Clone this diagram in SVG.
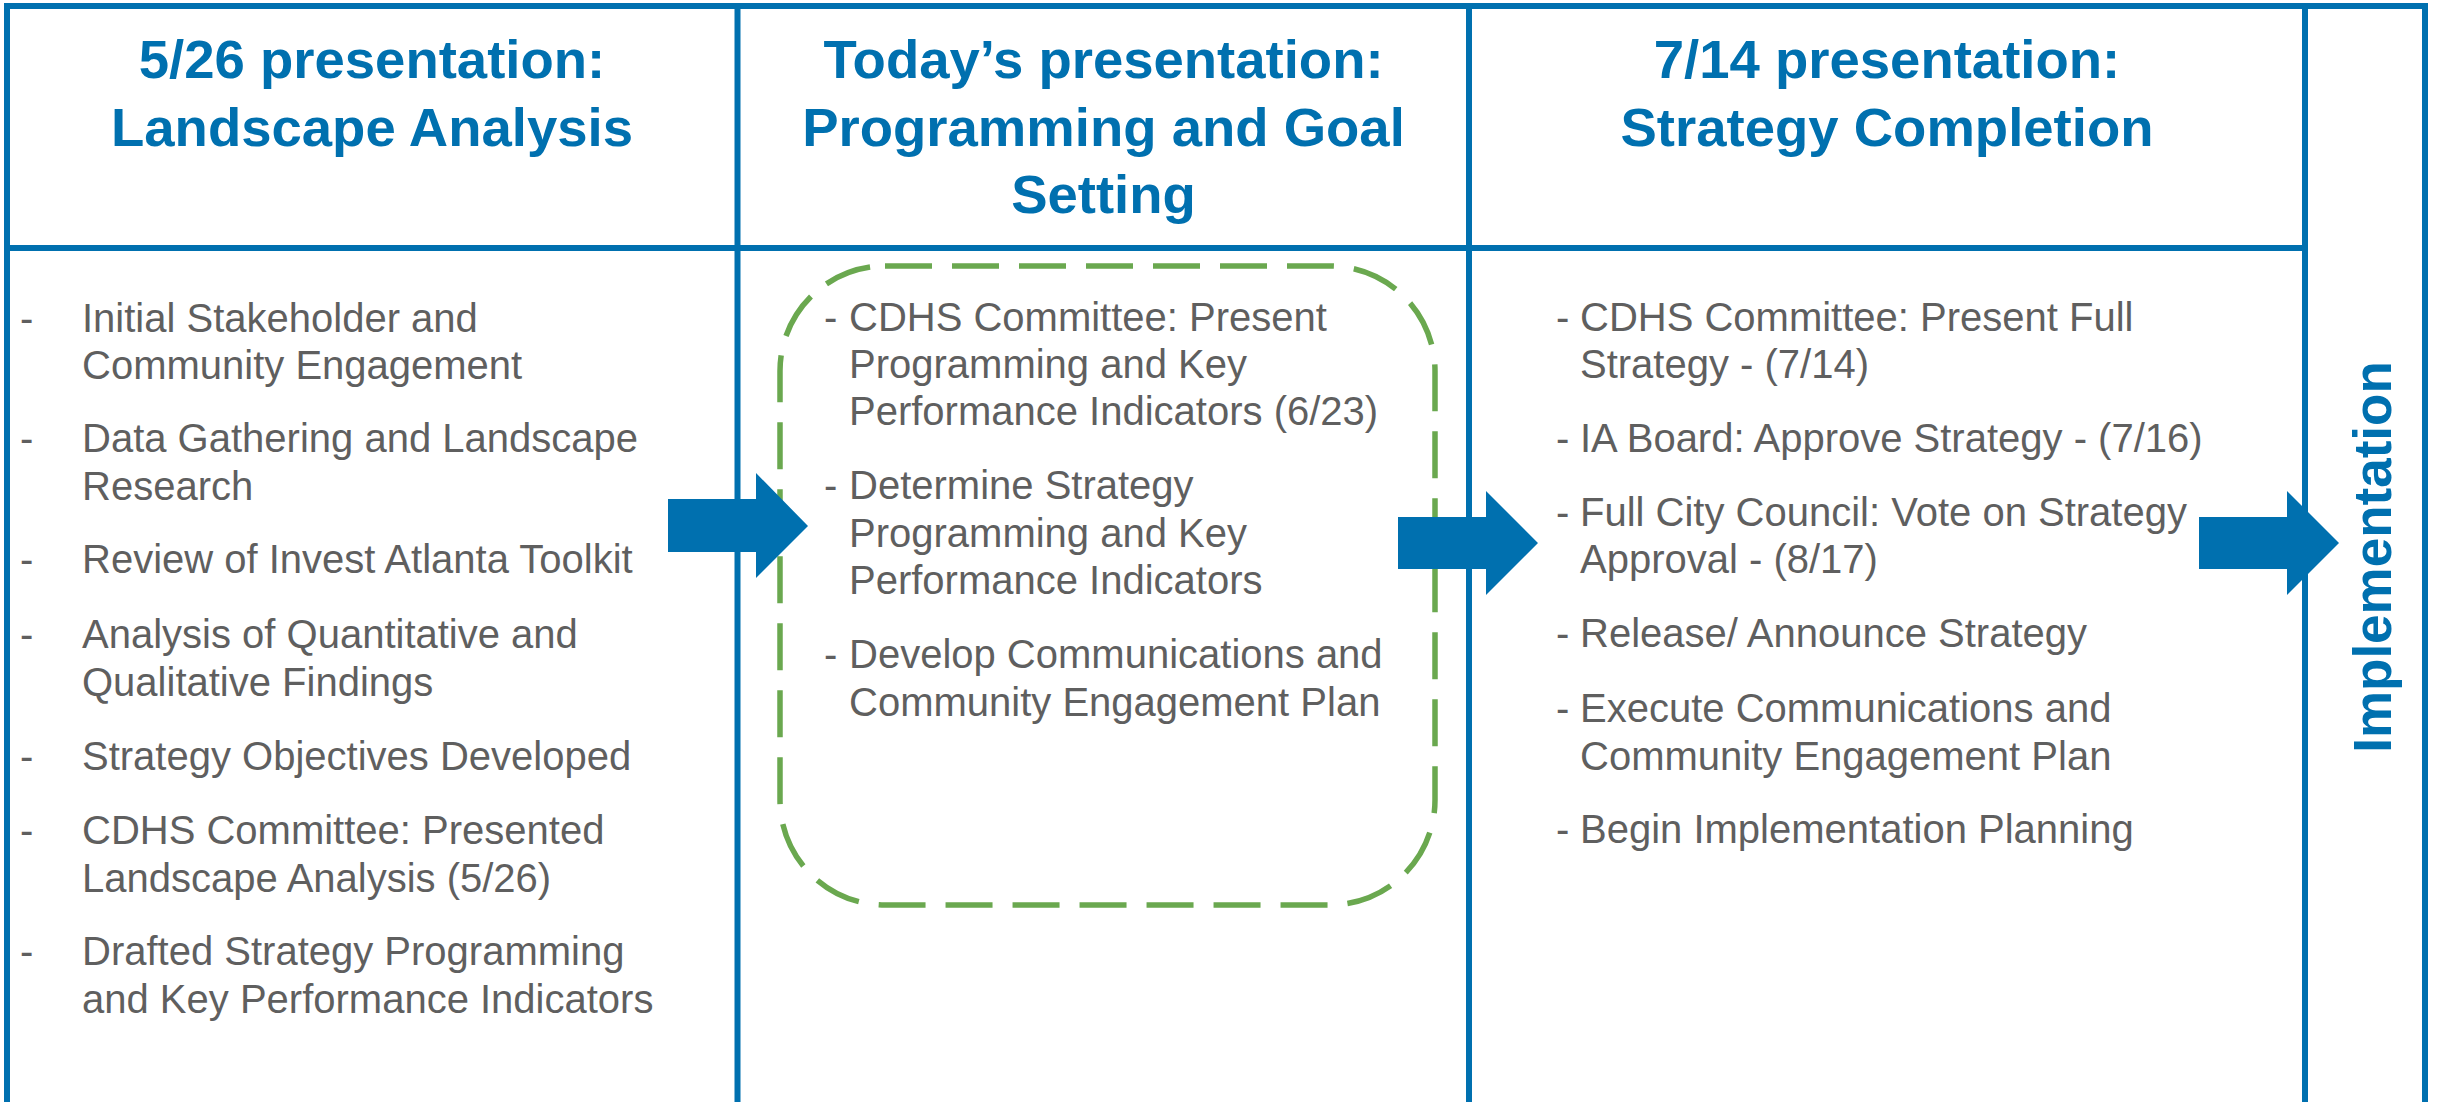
<svg xmlns="http://www.w3.org/2000/svg" width="2438" height="1102" viewBox="0 0 2438 1102">
  <style>
    .grid { stroke: #0070AF; stroke-width: 6; fill: none; }
    .title { font-family: "Liberation Sans", Arial, sans-serif; font-weight: bold; font-size: 54.5px; fill: #0070AF; text-anchor: middle; }
    .item { font-family: "Liberation Sans", Arial, sans-serif; font-size: 40px; fill: #5F5F5F; }
    .vertical { font-family: "Liberation Sans", Arial, sans-serif; font-weight: bold; font-size: 53px; fill: #0070AF; text-anchor: middle; }
    .arrow { fill: #0070AF; }
    .focus { fill: none; stroke: #6AA84F; stroke-width: 5.5; stroke-dasharray: 47 20; }
  </style>
  <rect width="2438" height="1102" fill="#FFFFFF"/>

  <!-- table frame: open at the bottom, header row spans the three phase columns -->
  <g id="grid" class="grid">
    <line x1="4" y1="6" x2="2428" y2="6"/>
    <line x1="7" y1="3" x2="7" y2="1110"/>
    <line x1="737.5" y1="3" x2="737.5" y2="1110"/>
    <line x1="1469" y1="3" x2="1469" y2="1110"/>
    <line x1="2305" y1="3" x2="2305" y2="1110"/>
    <line x1="2425" y1="3" x2="2425" y2="1110"/>
    <line x1="7" y1="248" x2="2305" y2="248"/>
  </g>

  <!-- phase 1 -->
  <g id="col-landscape">
    <text class="title" x="372" y="78">5/26 presentation:</text>
    <text class="title" x="372" y="146">Landscape Analysis</text>
    <g class="item">
      <text x="20" y="332">-</text>
      <text x="82" y="332">Initial Stakeholder and</text>
      <text x="82" y="379">Community Engagement</text>
      <text x="20" y="452">-</text>
      <text x="82" y="452">Data Gathering and Landscape</text>
      <text x="82" y="500">Research</text>
      <text x="20" y="573">-</text>
      <text x="82" y="573">Review of Invest Atlanta Toolkit</text>
      <text x="20" y="648">-</text>
      <text x="82" y="648">Analysis of Quantitative and</text>
      <text x="82" y="696">Qualitative Findings</text>
      <text x="20" y="770">-</text>
      <text x="82" y="770">Strategy Objectives Developed</text>
      <text x="20" y="844">-</text>
      <text x="82" y="844">CDHS Committee: Presented</text>
      <text x="82" y="892">Landscape Analysis (5/26)</text>
      <text x="20" y="965">-</text>
      <text x="82" y="965">Drafted Strategy Programming</text>
      <text x="82" y="1013">and Key Performance Indicators</text>
    </g>
  </g>

  <!-- phase 2 (current) with highlighted task list -->
  <g id="col-programming">
    <text class="title" x="1103.5" y="78">Today’s presentation:</text>
    <text class="title" x="1103.5" y="146">Programming and Goal</text>
    <text class="title" x="1103.5" y="213">Setting</text>
    <rect class="focus" x="780" y="266" width="655" height="639" rx="105" ry="105"/>
    <g class="item">
      <text x="824" y="331">-</text>
      <text x="849" y="331">CDHS Committee: Present</text>
      <text x="849" y="378">Programming and Key</text>
      <text x="849" y="425">Performance Indicators (6/23)</text>
      <text x="824" y="499">-</text>
      <text x="849" y="499">Determine Strategy</text>
      <text x="849" y="547">Programming and Key</text>
      <text x="849" y="594">Performance Indicators</text>
      <text x="824" y="668">-</text>
      <text x="849" y="668">Develop Communications and</text>
      <text x="849" y="716">Community Engagement Plan</text>
    </g>
  </g>

  <!-- phase 3 -->
  <g id="col-strategy">
    <text class="title" x="1887" y="78">7/14 presentation:</text>
    <text class="title" x="1887" y="146">Strategy Completion</text>
    <g class="item">
      <text x="1556" y="331">-</text>
      <text x="1580" y="331">CDHS Committee: Present Full</text>
      <text x="1580" y="378">Strategy - (7/14)</text>
      <text x="1556" y="452">-</text>
      <text x="1580" y="452">IA Board: Approve Strategy - (7/16)</text>
      <text x="1556" y="526">-</text>
      <text x="1580" y="526">Full City Council: Vote on Strategy</text>
      <text x="1580" y="573">Approval - (8/17)</text>
      <text x="1556" y="647">-</text>
      <text x="1580" y="647">Release/ Announce Strategy</text>
      <text x="1556" y="722">-</text>
      <text x="1580" y="722">Execute Communications and</text>
      <text x="1580" y="770">Community Engagement Plan</text>
      <text x="1556" y="843">-</text>
      <text x="1580" y="843">Begin Implementation Planning</text>
    </g>
  </g>

  <!-- final phase, label runs bottom to top -->
  <g id="col-implementation">
    <text class="vertical" transform="translate(2391 557) rotate(-90)">Implementation</text>
  </g>

  <!-- block arrows between phases -->
  <g id="connectors" class="arrow">
    <polygon points="668,499 756,499 756,473 808,526 756,578 756,552 668,552"/>
    <polygon points="1398,517 1486,517 1486,491 1538,543 1486,595 1486,569 1398,569"/>
    <polygon points="2199,517 2287,517 2287,491 2339,543 2287,595 2287,569 2199,569"/>
  </g>
</svg>
